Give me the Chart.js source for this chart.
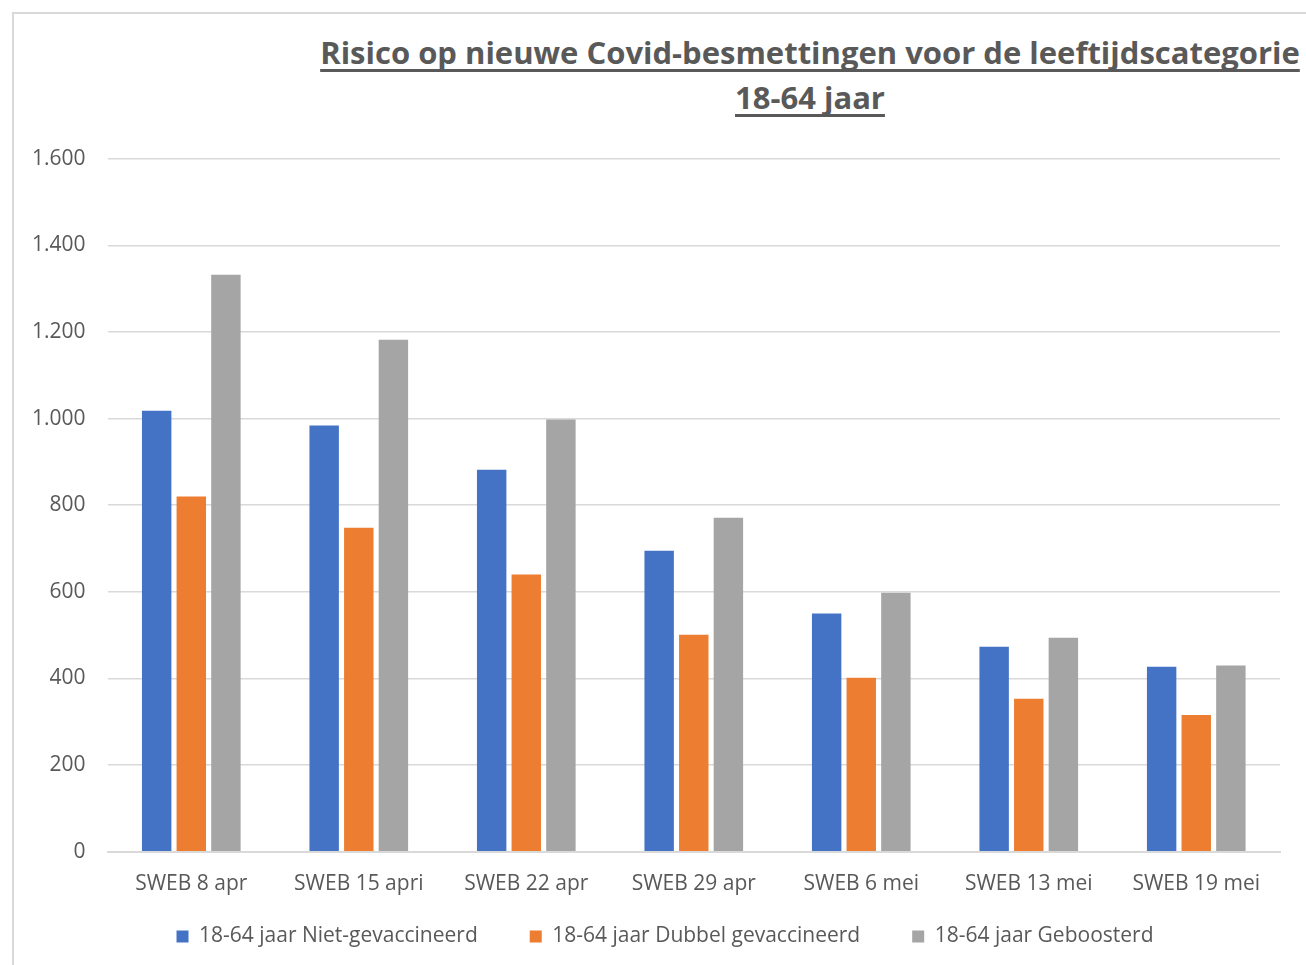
<!DOCTYPE html>
<html>
<head>
<meta charset="utf-8">
<script src="https://cdn.jsdelivr.net/npm/chart.js@4.4.0/dist/chart.umd.min.js"></script>
<style>
  html, body { margin: 0; padding: 0; background: #fff; }
  body { width: 1306px; height: 965px; position: relative; overflow: hidden; font-family: "Open Sans", sans-serif; }
  .frame { position: absolute; left: 12px; top: 12px; width: 1400px; height: 1000px; border-left: 2px solid #d9d9d9; border-top: 2px solid #d9d9d9; }
  .title { position: absolute; top: 30px; left: 310px; width: 1000px; text-align: center; color: #595959; font-weight: 700; font-size: 31px; line-height: 45px; text-decoration: underline; text-decoration-skip-ink: none; text-underline-offset: 5px; text-decoration-thickness: 3px; font-family: "Open Sans", sans-serif; }
  .wrap { position: absolute; left: 0; top: 124px; width: 1306px; height: 841px; }
</style>
</head>
<body>
<div class="frame"></div>
<div class="title">Risico op nieuwe Covid-besmettingen voor de leeftijdscategorie<br>18-64 jaar</div>
<div class="wrap"><canvas id="c"></canvas></div>
<script>
// data
const weeks = ['SWEB 8 apr', 'SWEB 15 apri', 'SWEB 22 apr', 'SWEB 29 apr', 'SWEB 6 mei', 'SWEB 13 mei', 'SWEB 19 mei'];
const nietGevaccineerd = [1018, 984, 882, 695, 550, 473, 427];
const dubbelGevaccineerd = [820, 748, 640, 501, 402, 353, 316];
const geboosterd = [1332, 1182, 998, 771, 598, 494, 430];

const textColor = '#595959';
const gridColor = '#d9d9d9';
const font = { family: 'Open Sans', size: 21 };

// legend padding is also the gap between items, which leaves too much room above it.
// Give some of that height back to the plot and shift the legend a bit right.
const LIFT = 43;
const SHIFT = 20;
const legendTweak = {
  id: 'legendTweak',
  beforeInit(chart) {
    const lg = chart.legend;
    const fit = lg.fit;
    lg.fit = function () { fit.call(this); this.height -= LIFT; };
  },
  afterLayout(chart) {
    const lg = chart.legend;
    lg.top -= LIFT;
    lg.left += SHIFT; lg.right += SHIFT;
  }
};

new Chart(document.getElementById('c'), {
  type: 'bar',
  data: {
    labels: weeks,
    datasets: [
      { label: '18-64 jaar Niet-gevaccineerd', data: nietGevaccineerd, backgroundColor: '#4472C4' },
      { label: '18-64 jaar Dubbel gevaccineerd', data: dubbelGevaccineerd, backgroundColor: '#ED7D31' },
      { label: '18-64 jaar Geboosterd', data: geboosterd, backgroundColor: '#A5A5A5' }
    ]
  },
  plugins: [legendTweak],
  options: {
    responsive: true,
    maintainAspectRatio: false,
    animation: false,
    locale: 'nl-NL',
    datasets: { bar: { categoryPercentage: 0.62, barPercentage: 0.85 } },
    layout: { padding: { left: 10, right: 26, top: 5, bottom: 8 } },
    plugins: {
      legend: {
        position: 'bottom',
        labels: { color: textColor, font: font, boxWidth: 12, boxHeight: 12, padding: 52 }
      },
      tooltip: { enabled: false }
    },
    scales: {
      x: {
        grid: { display: false, drawTicks: false },
        border: { color: gridColor, width: 2 },
        ticks: { color: textColor, font: font, padding: 20 }
      },
      y: {
        min: 0, max: 1600,
        grid: { color: gridColor, lineWidth: 1.5, drawTicks: false },
        border: { display: false },
        ticks: { stepSize: 200, color: textColor, font: font, padding: 22 }
      }
    }
  }
});
</script>
</body>
</html>
